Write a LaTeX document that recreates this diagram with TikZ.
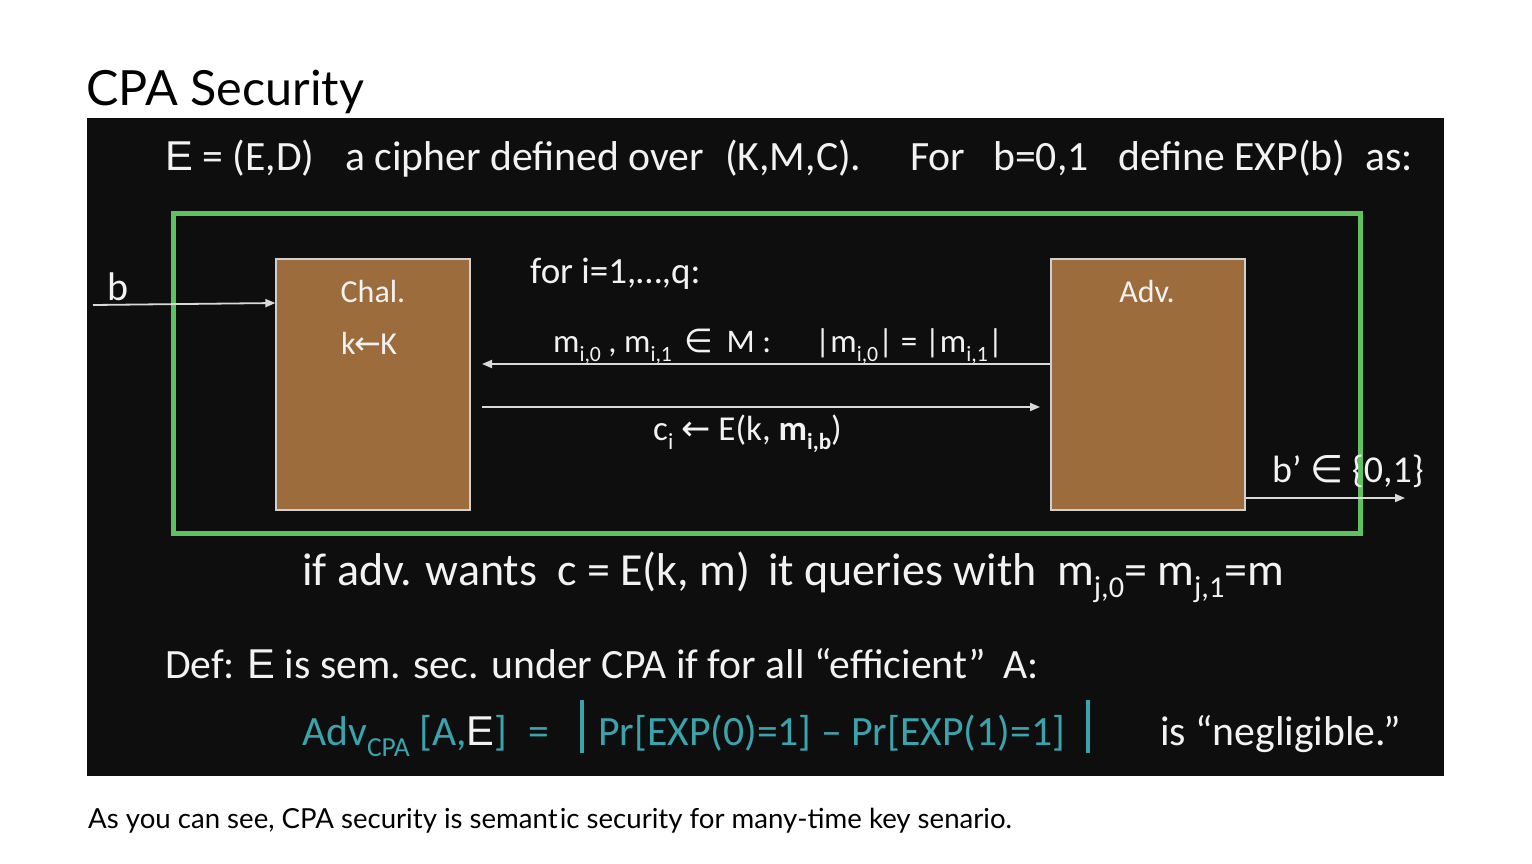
\documentclass[tikz,border=0pt]{standalone}
\usepackage{fontspec}
\usepackage{graphicx}
\usetikzlibrary{arrows.meta}
\setmainfont{Carlito}
\newfontfamily\titlefont{Lato}
\newfontfamily\efont{Liberation Sans}
\newfontfamily\symfont{DejaVu Sans}
\definecolor{slidebg}{HTML}{0E0E0E}
\definecolor{boxfill}{HTML}{9C6C3D}
\definecolor{boxline}{HTML}{D0D0D0}
\definecolor{frame}{HTML}{5EC25E}
\definecolor{arrowc}{HTML}{D9D9D9}
\definecolor{teal}{HTML}{3AA3AB}
\definecolor{txt}{HTML}{F2F2F2}
\newcommand\lo[1]{\raisebox{-0.28em}{\scalebox{0.66}{#1}}}
\newcommand\fs[1]{\fontsize{#1}{#1}\selectfont}
\newcommand\isin{{\symfont ∈}}
\newcommand\getsarrow{{\symfont ←}}
\tikzset{
  t/.style={anchor=base west, inner sep=0pt, text=txt},
  big/.style={t, font=\fs{41.7}},
  huge/.style={t, font=\fs{46}},
  mid/.style={t, font=\fs{33}},
  party/.style={draw=boxline, line width=1.2pt, fill=boxfill, minimum width=194pt, minimum height=251pt, inner sep=0pt},
  msg/.style={draw=arrowc, line width=1.8pt, -{Triangle[length=10pt,width=8pt]}},
}
\begin{document}
\begin{tikzpicture}[x=1pt,y=-1pt]
\useasboundingbox (0,0) rectangle (1532,863);
\fill[white] (0,0) rectangle (1532,863);
\node[anchor=base west, inner sep=0pt, font=\titlefont\fs{48.5}] (title) at (86,105) {CPA Security};
\fill[slidebg] (87,118) rectangle (1444,776);
% line 1
\node[big] (l1a) at (165,170) {{\efont E} = (E,D)};
\node[big] (l1b) at (345,170) {a cipher defined over};
\node[big] (l1c) at (725,170) {(K,M,C).};
\node[big] (l1d) at (910,170) {For};
\node[big] (l1e) at (993,170) {b=0,1};
\node[big] (l1f) at (1118,170) {define EXP(b)};
\node[big] (l1g) at (1365,170) {as:};
% frame
\draw[frame, line width=5pt] (173,213) rectangle (1360,533);
% parties
\node[party] (chal) at (373,384.5) {};
\node[party] (adv) at (1148,384.5) {};
\node[t, anchor=base, font=\fs{32}] (chalt) at (373,302) {Chal.};
\node[t, anchor=base, font=\fs{32}] (key) at (369,354) {k\kern-1pt\getsarrow\kern-1ptK};
\node[t, anchor=base, font=\fs{32}] (advt) at (1147,302) {Adv.};
% b input
\node[t, font=\fs{40}] (bl) at (107,300) {b};
\coordinate (bin) at (93,305);
\draw[msg] (bin) -- (chal.west |- 0,303);
% messages
\node[t, font=\fs{37}] (fori) at (530,283) {for i=1,\ldots,q:};
\node[mid] (mm) at (553,352) {m\lo{i,0} , m\lo{i,1}\, \isin\, M :};
\node[mid] (len) at (815,352) {|m\lo{i,0}| = |m\lo{i,1}|};
\coordinate (ql) at (482,364);
\draw[msg] (adv.west |- 0,364) -- (ql);
\coordinate (cs) at (482,407);
\coordinate (ce) at (1040,407);
\draw[msg] (cs) -- (ce);
\node[t, font=\fs{35}] (ci) at (653,440) {c\lo{i} \getsarrow\ E(k, \textbf{m\lo{i,b}})};
% output
\node[t, font=\fs{38}] (bp) at (1272,482) {b’ \isin\ \{0,1\}};
\coordinate (bout) at (1405,498);
\draw[msg] (adv.east |- 0,498) -- (bout);
% if line
\node[huge] (if1) at (302,585) {if adv. wants};
\node[huge] (if2) at (557,585) {c = E(k, m)};
\node[huge] (if3) at (768,585) {it queries with};
\node[huge] (if4) at (1057,585) {m\lo{j,0}= m\lo{j,1}=m};
% def
\node[big] (def) at (165,678) {Def: {\efont E} is sem. sec. under CPA if for all “efficient”};
\node[big] (defa) at (1003,678) {A:};
% adv line
\node[big, text=teal] (adva) at (302,745) {Adv\lo{CPA} [A,{\color{txt}\efont E}]};
\node[big, text=teal] (eq) at (528,745) {=};
\draw[teal, line width=3.5pt] (582,700) -- (582,753);
\node[big, text=teal] (pr) at (598,745) {Pr[EXP(0)=1] – Pr[EXP(1)=1]};
\draw[teal, line width=3.5pt] (1088,700) -- (1088,753);
\node[big] (negl) at (1160,745) {is “negligible.”};
% caption
\node[anchor=base west, inner sep=0pt, font=\titlefont\fs{27.6}] (cap) at (88,828) {As you can see, CPA security is semant\kern2pt ic security for many-time key senario.};
\end{tikzpicture}
\end{document}
